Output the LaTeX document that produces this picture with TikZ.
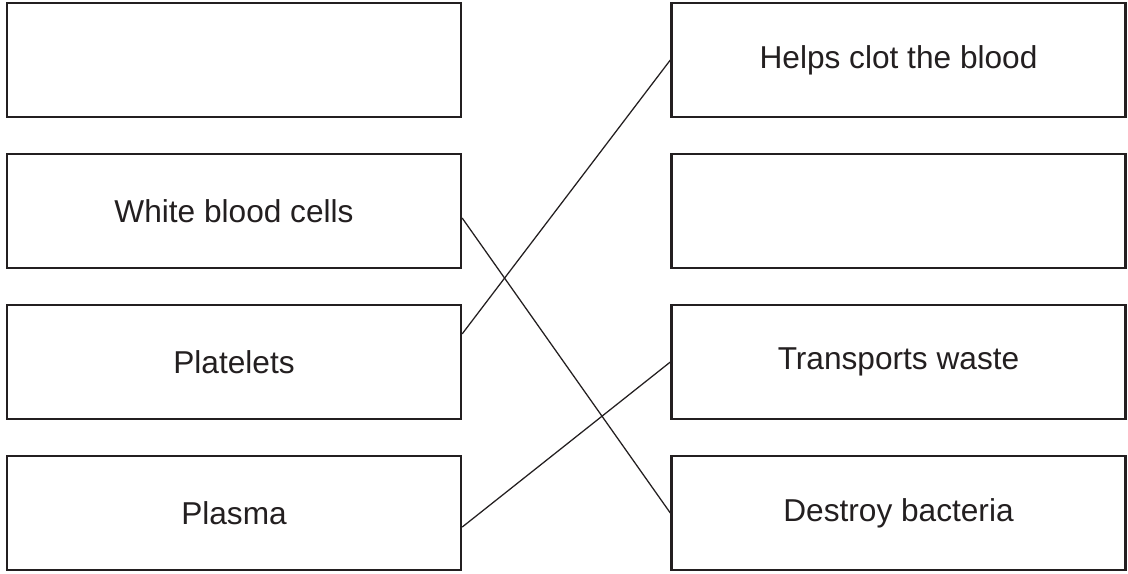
\documentclass[tikz,border=0pt]{standalone}
\usepackage{fontspec}
\setmainfont{Liberation Sans}
\usetikzlibrary{positioning}
\definecolor{ink}{RGB}{35,31,32}

\begin{document}
\begin{tikzpicture}[x=0.025cm, y=-0.025cm, ink, box/.style={rectangle, draw=ink, text=ink, line width=1.6pt, minimum width=11.35cm, minimum height=2.85cm, inner sep=0pt, font=\fontsize{22.5}{27}\selectfont}, link/.style={draw=ink, line width=0.9pt}]

\useasboundingbox (0,0) rectangle (1128,573);

\node[box](blank1) at (234,60) {};
\node[box](wbc) at (234,211) {White blood cells};
\node[box](plat) at (234,362) {Platelets};
\node[box](plasma) at (234,513) {Plasma};

\node[box](clot) at (898.5,60) {Helps clot the blood};
\node[box](blank2) at (898.5,211) {};
\node[box](waste) at (898.5,362) {Transports waste};
\node[box](bact) at (898.5,513) {Destroy bacteria};

\draw[link] ([yshift=-5pt]wbc.east) -- (bact.west);
\draw[link] ([yshift=20pt]plat.east) -- (clot.west);
\draw[link] ([yshift=-10pt]plasma.east) -- (waste.west);

\end{tikzpicture}
\end{document}
